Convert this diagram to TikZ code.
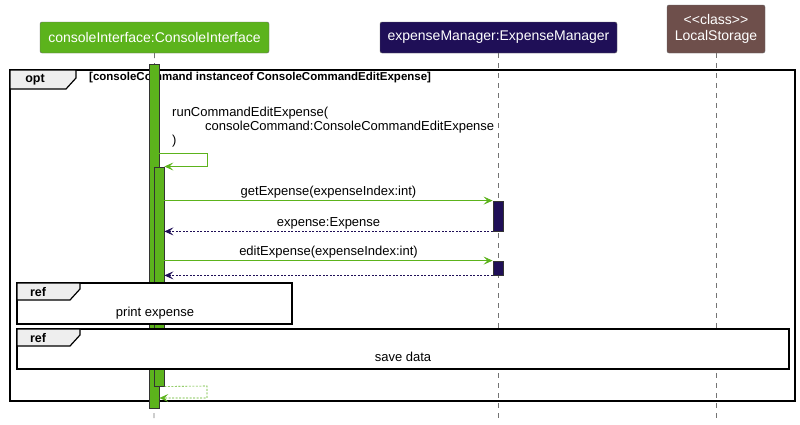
\documentclass[tikz,border=0pt]{standalone}
\usepackage{fontspec}
\setmainfont{Liberation Sans}
\usetikzlibrary{arrows.meta, positioning, calc}
\definecolor{ciGreen}{HTML}{5CB31C}
\definecolor{emNavy}{HTML}{1F0F57}
\definecolor{lsBrown}{HTML}{6E4F4B}
\definecolor{tabGray}{HTML}{EEEEEE}

\begin{document}
\begin{tikzpicture}[
        x=1pt, y=-1pt,
        head/.style={rectangle, rounded corners=2pt, draw=black!60, text=white, align=center, font=\fontsize{14}{16}\selectfont, inner sep=0pt},
        lifeline/.style={draw=black!55, dash pattern=on 5pt off 5pt, line width=0.6pt},
        actbar/.style={rectangle, draw=black!80, line width=0.8pt, minimum width=10pt, inner sep=0pt},
        frame/.style={draw=black, line width=1.4pt},
        tab/.style={draw=black, line width=1.2pt, fill=tabGray},
        call/.style={-{Stealth[length=9pt, width=8pt, inset=4pt]}, line width=0.7pt},
        reply/.style={-{Stealth[length=9pt, width=8pt, inset=4pt]}, line width=0.6pt, dash pattern=on 2pt off 1.5pt},
        msg/.style={font=\fontsize{13}{14}\selectfont, inner sep=0pt},
        kw/.style={font=\fontsize{12.5}{14}\selectfont\bfseries, inner sep=0pt}
    ]
        \useasboundingbox (0,0) rectangle (800,424);

        \node[head, fill=ciGreen, minimum width=229pt, minimum height=31pt] (ci) at (154.5,37.5) {consoleInterface:ConsoleInterface};
        \node[head, fill=emNavy, minimum width=237pt, minimum height=31pt] (em) at (498.5,37.5) {expenseManager:ExpenseManager};
        \node[head, fill=lsBrown, minimum width=98pt, minimum height=48pt] (ls) at (716,29) {\textless\kern0pt\textless\kern0pt class\kern0pt\textgreater\kern0pt\textgreater\\LocalStorage};

        \coordinate (ciEnd) at (154,418);
        \coordinate (emEnd) at (498.5,418);
        \coordinate (lsEnd) at (716,418);
        \draw[lifeline] (ci.south) -- (ciEnd);
        \draw[lifeline] (em.south) -- (emEnd);
        \draw[lifeline] (ls.south) -- (lsEnd);

        \draw[frame] (10,70) rectangle (795,401);
        \draw[tab] (10,70) -- (76,70) -- (76,78) -- (66,89) -- (10,89) -- cycle;
        \node[kw] (optLbl) at (35,79.5) {opt};
        \node[font=\fontsize{11.5}{13}\selectfont\bfseries, inner sep=0pt, anchor=west] (guard) at (89,78) {[consoleCommand instanceof ConsoleCommandEditExpense]};

        \node[actbar, fill=ciGreen, minimum height=344pt] (ciAct) at (154,236) {};
        \node[actbar, fill=ciGreen, minimum height=219pt] (nested) at (159,276.5) {};
        \node[actbar, fill=emNavy, minimum height=30pt] (emAct1) at (498,216) {};
        \node[actbar, fill=emNavy, minimum height=14pt] (emAct2) at (498,268) {};

        \draw[frame, line width=1.2pt, fill=white] (17,283) rectangle (292,324);
        \draw[tab] (17,283) -- (80,283) -- (80,289) -- (70,300) -- (17,300) -- cycle;
        \node[kw] (refA) at (38,292) {ref};
        \draw[frame, line width=1.2pt, fill=white] (17,329) rectangle (789,369);
        \draw[tab] (17,329) -- (80,329) -- (80,335) -- (70,346) -- (17,346) -- cycle;
        \node[kw] (refB) at (38,338) {ref};

        \node[msg, align=left, anchor=north west] (runLbl) at (172,107) {runCommandEditExpense(\\\hspace*{33pt}consoleCommand:ConsoleCommandEditExpense\\)};
        \coordinate (selfA) at (207,153);
        \coordinate (selfB) at (207,166.5);
        \draw[call, draw=ciGreen] (ciAct.east |- selfA) -- (selfA) -- (selfB) -- (nested.east |- selfB);

        \draw[call, draw=ciGreen] (nested.east |- emAct1.north) -- (emAct1.north west) node[msg, midway, above=2pt] {getExpense(expenseIndex:int)};
        \draw[reply, draw=emNavy] (emAct1.south west) -- (nested.east |- emAct1.south) node[msg, midway, above=2pt] {expense:Expense};
        \draw[call, draw=ciGreen] (nested.east |- emAct2.north) -- (emAct2.north west) node[msg, midway, above=2pt] {editExpense(expenseIndex:int)};
        \draw[reply, draw=emNavy] (emAct2.south west) -- (nested.east |- emAct2.south);

        \node[msg] (printLbl) at (155,313) {print expense};
        \node[msg] (saveLbl) at (403,357) {save data};

        \coordinate (backA) at (207,386);
        \coordinate (backB) at (207,398);
        \draw[reply, draw=ciGreen] (nested.south east) -- (backA) -- (backB) -- (ciAct.east |- backB);
    \end{tikzpicture}
\end{document}
